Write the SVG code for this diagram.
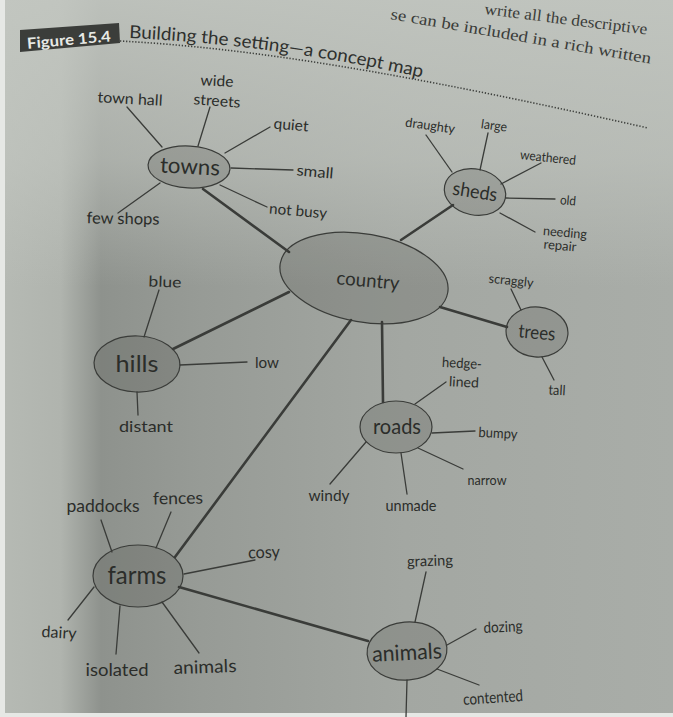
<svg xmlns="http://www.w3.org/2000/svg" width="673" height="717" viewBox="0 0 673 717">
<defs>
<linearGradient id="pageH" x1="0" y1="0" x2="673" y2="0" gradientUnits="userSpaceOnUse">
<stop offset="0" stop-color="#b6bab4"/>
<stop offset="0.09" stop-color="#b0b4ae"/>
<stop offset="0.15" stop-color="#8e928d"/>
<stop offset="0.3" stop-color="#979b96"/>
<stop offset="0.6" stop-color="#a3a7a2"/>
<stop offset="1" stop-color="#a9ada8"/>
</linearGradient>
<linearGradient id="pageTop" x1="0" y1="0" x2="0" y2="717" gradientUnits="userSpaceOnUse">
<stop offset="0" stop-color="#c4c8c2" stop-opacity="0.85"/>
<stop offset="0.22" stop-color="#c4c8c2" stop-opacity="0.55"/>
<stop offset="0.4" stop-color="#c4c8c2" stop-opacity="0"/>
<stop offset="1" stop-color="#c4c8c2" stop-opacity="0"/>
</linearGradient>
<path id="titlePath" d="M129,38 Q280,45 428,79"/>
<path id="topLine1" d="M484,14 L650,35"/>
<path id="topLine2" d="M390,19 L652,64"/>
</defs>
<style>
.node ellipse{fill:#2e312c;fill-opacity:0.17;stroke:#3a3c39;stroke-width:1.2}
text{font-family:Lato,"Open Sans","Liberation Sans",sans-serif;fill:#2b2d2a;text-anchor:middle}
.nl{font-size:20px}
.lf{font-size:15px}
#connectors line{stroke:#3a3c39;stroke-linecap:round}
#connectors .main{stroke-width:2.6}
#connectors .spoke{stroke-width:1.3}
.hdr{font-family:"Liberation Serif",serif;font-size:16px;fill:#3a3c39;text-anchor:start}
</style>
<rect x="0" y="0" width="673" height="717" fill="url(#pageH)"/>
<rect x="0" y="0" width="673" height="717" fill="url(#pageTop)"/>
<rect x="0" y="0" width="5" height="717" fill="#e6e8e5"/>
<rect x="0" y="713" width="673" height="4" fill="#e6e8e5"/>

<g id="header">
<polygon points="20,30 119,23 120,43 20,52" fill="#3b3d3a"/>
<text x="69" y="45" transform="rotate(-5 69 40)" style="font-size:15px;font-weight:bold;fill:#e8eae6" textLength="84" lengthAdjust="spacingAndGlyphs">Figure 15.4</text>
<text style="font-size:18px;text-anchor:start;fill:#2e302d"><textPath href="#titlePath" textLength="296" lengthAdjust="spacingAndGlyphs">Building the setting—a concept map</textPath></text>
<path d="M120,41 C250,48 400,72 648,128" fill="none" stroke="#3e403d" stroke-width="1.6" stroke-dasharray="1.3 1.8"/>
<text class="hdr"><textPath href="#topLine1" textLength="164" lengthAdjust="spacingAndGlyphs">write all the descriptive</textPath></text>
<text class="hdr"><textPath href="#topLine2" textLength="264" lengthAdjust="spacingAndGlyphs">se can be included in a rich written</textPath></text>
</g>

<g id="connectors">
<line class="main" x1="203" y1="189" x2="289" y2="252"/>
<line class="main" x1="401" y1="240" x2="453" y2="205"/>
<line class="main" x1="440" y1="307" x2="507" y2="327"/>
<line class="main" x1="289" y1="292" x2="173" y2="349"/>
<line class="main" x1="382" y1="322" x2="383" y2="402"/>
<line class="main" x1="351" y1="320" x2="175" y2="557"/>
<line class="main" x1="179" y1="587" x2="368" y2="641"/>
<line class="spoke" x1="127" y1="107" x2="162" y2="147"/>
<line class="spoke" x1="210" y1="107" x2="198" y2="146"/>
<line class="spoke" x1="270" y1="127" x2="225" y2="153"/>
<line class="spoke" x1="231" y1="168" x2="293" y2="170"/>
<line class="spoke" x1="220" y1="185" x2="267" y2="207"/>
<line class="spoke" x1="160" y1="183" x2="118" y2="213"/>
<line class="spoke" x1="426" y1="135" x2="452" y2="172"/>
<line class="spoke" x1="488" y1="133" x2="480" y2="170"/>
<line class="spoke" x1="541" y1="163" x2="501" y2="184"/>
<line class="spoke" x1="506" y1="198" x2="555" y2="199"/>
<line class="spoke" x1="500" y1="213" x2="535" y2="232"/>
<line class="spoke" x1="511" y1="289" x2="521" y2="310"/>
<line class="spoke" x1="542" y1="357" x2="554" y2="380"/>
<line class="spoke" x1="159" y1="290" x2="144" y2="337"/>
<line class="spoke" x1="180" y1="365" x2="247" y2="362"/>
<line class="spoke" x1="137" y1="392" x2="138" y2="415"/>
<line class="spoke" x1="446" y1="382" x2="415" y2="404"/>
<line class="spoke" x1="432" y1="433" x2="475" y2="431"/>
<line class="spoke" x1="418" y1="448" x2="463" y2="469"/>
<line class="spoke" x1="366" y1="442" x2="330" y2="484"/>
<line class="spoke" x1="401" y1="453" x2="407" y2="494"/>
<line class="spoke" x1="101" y1="520" x2="112" y2="552"/>
<line class="spoke" x1="171" y1="512" x2="156" y2="548"/>
<line class="spoke" x1="184" y1="574" x2="255" y2="560"/>
<line class="spoke" x1="94" y1="587" x2="68" y2="620"/>
<line class="spoke" x1="120" y1="606" x2="116" y2="654"/>
<line class="spoke" x1="162" y1="602" x2="199" y2="653"/>
<line class="spoke" x1="426" y1="572" x2="415" y2="622"/>
<line class="spoke" x1="476" y1="629" x2="447" y2="645"/>
<line class="spoke" x1="437" y1="669" x2="479" y2="685"/>
<line class="spoke" x1="407" y1="680" x2="406" y2="717"/>
</g>

<g id="node-towns" class="node">
<ellipse cx="189" cy="167" rx="41" ry="21" transform="rotate(3 189 167)"/>
<text class="nl" x="190" y="174" style="font-size:22px" textLength="60" lengthAdjust="spacingAndGlyphs" transform="rotate(3 190 167)">towns</text>
<text class="lf" x="130" y="104" textLength="65" lengthAdjust="spacingAndGlyphs" transform="rotate(3 130 99)">town hall</text>
<text class="lf" x="217" y="86" textLength="33" lengthAdjust="spacingAndGlyphs" transform="rotate(3 217 81)">wide</text>
<text class="lf" x="217" y="106" textLength="47" lengthAdjust="spacingAndGlyphs" transform="rotate(4 217 101)">streets</text>
<text class="lf" x="291" y="130" textLength="35" lengthAdjust="spacingAndGlyphs" transform="rotate(5 291 126)">quiet</text>
<text class="lf" x="315" y="177" textLength="37" lengthAdjust="spacingAndGlyphs" transform="rotate(5 315 172)">small</text>
<text class="lf" x="298" y="216" textLength="58" lengthAdjust="spacingAndGlyphs" transform="rotate(5 298 212)">not busy</text>
<text class="lf" x="123" y="224" style="font-size:16px" textLength="73" lengthAdjust="spacingAndGlyphs" transform="rotate(1 123 219)">few shops</text>
</g>

<g id="node-sheds" class="node">
<ellipse cx="475" cy="192" rx="31" ry="23" transform="rotate(12 475 192)"/>
<text class="nl" x="475" y="198" style="font-size:19px" textLength="45" lengthAdjust="spacingAndGlyphs" transform="rotate(9 475 192)">sheds</text>
<text class="lf" x="430" y="130" style="font-size:13px" textLength="50" lengthAdjust="spacingAndGlyphs" transform="rotate(8 430 127)">draughty</text>
<text class="lf" x="494" y="130" style="font-size:13px" textLength="26" lengthAdjust="spacingAndGlyphs" transform="rotate(8 494 126)">large</text>
<text class="lf" x="548" y="162" style="font-size:13px" textLength="56" lengthAdjust="spacingAndGlyphs" transform="rotate(6 548 158)">weathered</text>
<text class="lf" x="568" y="205" style="font-size:13px" textLength="16" lengthAdjust="spacingAndGlyphs" transform="rotate(5 568 201)">old</text>
<text class="lf" x="565" y="237" style="font-size:13px" textLength="44" lengthAdjust="spacingAndGlyphs" transform="rotate(5 565 233)">needing</text>
<text class="lf" x="560" y="250" style="font-size:13px" textLength="33" lengthAdjust="spacingAndGlyphs" transform="rotate(5 560 246)">repair</text>
</g>

<g id="node-country" class="node">
<ellipse cx="364" cy="278" rx="85" ry="44" transform="rotate(10 364 278)"/>
<text class="nl" x="368" y="287" style="font-size:19px" textLength="63" lengthAdjust="spacingAndGlyphs" transform="rotate(5 368 281)">country</text>
</g>

<g id="node-trees" class="node">
<ellipse cx="537" cy="332" rx="31" ry="25" transform="rotate(5 537 332)"/>
<text class="nl" x="537" y="339" style="font-size:19px" textLength="37" lengthAdjust="spacingAndGlyphs" transform="rotate(5 537 333)">trees</text>
<text class="lf" x="511" y="285" style="font-size:13px" textLength="45" lengthAdjust="spacingAndGlyphs" transform="rotate(6 511 282)">scraggly</text>
<text class="lf" x="557" y="395" style="font-size:14px" textLength="17" lengthAdjust="spacingAndGlyphs" transform="rotate(3 557 390)">tall</text>
</g>

<g id="node-hills" class="node">
<ellipse cx="137" cy="364" rx="43" ry="28" transform="rotate(2 137 364)"/>
<text class="nl" x="137" y="372" style="font-size:23px" textLength="43" lengthAdjust="spacingAndGlyphs">hills</text>
<text class="lf" x="165" y="287" textLength="33" lengthAdjust="spacingAndGlyphs" transform="rotate(2 165 282)">blue</text>
<text class="lf" x="267" y="368" textLength="24" lengthAdjust="spacingAndGlyphs">low</text>
<text class="lf" x="146" y="432" style="font-size:16px" textLength="54" lengthAdjust="spacingAndGlyphs">distant</text>
</g>

<g id="node-roads" class="node">
<ellipse cx="396" cy="427" rx="36" ry="26"/>
<text class="nl" x="397" y="434" style="font-size:21px" textLength="48" lengthAdjust="spacingAndGlyphs">roads</text>
<text class="lf" x="462" y="368" style="font-size:14px" textLength="40" lengthAdjust="spacingAndGlyphs" transform="rotate(3 462 363)">hedge-</text>
<text class="lf" x="464" y="387" style="font-size:14px" textLength="30" lengthAdjust="spacingAndGlyphs" transform="rotate(3 464 382)">lined</text>
<text class="lf" x="498" y="438" style="font-size:14px" textLength="39" lengthAdjust="spacingAndGlyphs" transform="rotate(3 498 434)">bumpy</text>
<text class="lf" x="487" y="485" style="font-size:14px" textLength="39" lengthAdjust="spacingAndGlyphs">narrow</text>
<text class="lf" x="329" y="501" style="font-size:16px" textLength="41" lengthAdjust="spacingAndGlyphs">windy</text>
<text class="lf" x="411" y="511" style="font-size:16px" textLength="51" lengthAdjust="spacingAndGlyphs">unmade</text>
</g>

<g id="node-farms" class="node">
<ellipse cx="138" cy="576" rx="45" ry="31"/>
<text class="nl" x="137" y="584" style="font-size:25px" textLength="59" lengthAdjust="spacingAndGlyphs">farms</text>
<text class="lf" x="103" y="512" style="font-size:17px" textLength="73" lengthAdjust="spacingAndGlyphs">paddocks</text>
<text class="lf" x="178" y="504" style="font-size:17px" textLength="50" lengthAdjust="spacingAndGlyphs" transform="rotate(-1 178 498)">fences</text>
<text class="lf" x="264" y="558" style="font-size:17px" textLength="32" lengthAdjust="spacingAndGlyphs" transform="rotate(-2 264 553)">cosy</text>
<text class="lf" x="59" y="638" style="font-size:16px" textLength="35" lengthAdjust="spacingAndGlyphs" transform="rotate(3 59 634)">dairy</text>
<text class="lf" x="117" y="676" style="font-size:18px" textLength="63" lengthAdjust="spacingAndGlyphs">isolated</text>
<text class="lf" x="205" y="673" style="font-size:18px" textLength="63" lengthAdjust="spacingAndGlyphs" transform="rotate(-2 205 667)">animals</text>
</g>

<g id="node-animals" class="node">
<ellipse cx="407" cy="651" rx="40" ry="29" transform="rotate(-5 407 651)"/>
<text class="nl" x="407" y="660" style="font-size:22px" textLength="70" lengthAdjust="spacingAndGlyphs" transform="rotate(-3 407 653)">animals</text>
<text class="lf" x="430" y="566" textLength="46" lengthAdjust="spacingAndGlyphs" transform="rotate(-2 430 562)">grazing</text>
<text class="lf" x="503" y="632" textLength="39" lengthAdjust="spacingAndGlyphs" transform="rotate(-3 503 628)">dozing</text>
<text class="lf" x="493" y="703" style="font-size:16px" textLength="60" lengthAdjust="spacingAndGlyphs" transform="rotate(-4 493 698)">contented</text>
</g>
</svg>
